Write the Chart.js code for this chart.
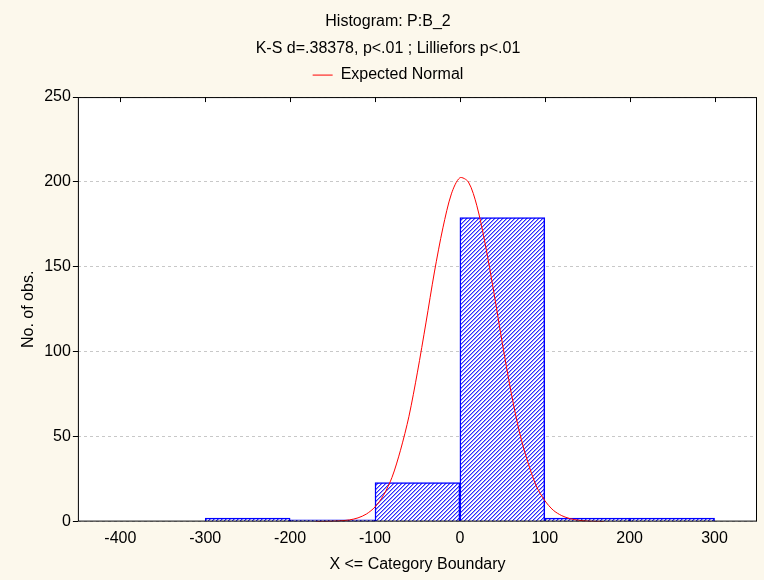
<!DOCTYPE html>
<html>
<head>
<meta charset="utf-8">
<script src="https://cdn.jsdelivr.net/npm/chart.js@4/dist/chart.umd.min.js"></script>
<style>
  html, body { margin: 0; padding: 0; background: #fcf8ec; }
  #wrap { width: 764px; height: 580px; }
</style>
</head>
<body>
<div id="wrap"><canvas id="grafico"></canvas></div>
<script>
const xTicks = [-400, -300, -200, -100, 0, 100, 200, 300];
const binCenters = [-250, -150, -50, 50, 150, 250];
const counts = [2, 1, 23, 179, 2, 2];

// curva normal esperada
const normalX = [-170, -160, -150, -140, -130, -120, -110, -100, -90, -80, -70, -60, -50, -40, -30, -20, -10, 0,
                 10, 20, 30, 40, 50, 60, 70, 80, 90, 100, 110, 120, 130, 140, 150, 160, 170];
const normalY = [0.03, 0.08, 0.2, 0.5, 1.0, 2.2, 4.5, 8.6, 15.5, 26, 42, 62, 88, 117, 147, 173, 193, 202.5,
                 200, 186, 163, 135, 105, 77, 53, 35, 21, 12.4, 6.7, 3.5, 1.7, 0.8, 0.3, 0.12, 0.04];

function hatch() {
    const c = document.createElement('canvas');
    c.width = 4; c.height = 4;
    const g = c.getContext('2d');
    g.fillStyle = '#ffffff';
    g.fillRect(0, 0, 4, 4);
    for (let y = 0; y < 4; y++) {
        for (let x = 0; x < 4; x++) {
            const k = (x + y) % 4;
            if (k === 0) { g.fillStyle = '#2a2aff'; g.fillRect(x, y, 1, 1); }
            if (k === 1) { g.fillStyle = '#9a9aff'; g.fillRect(x, y, 1, 1); }
        }
    }
    return g.createPattern(c, 'repeat');
}

const fondo = {
    id: 'fondo',
    beforeInit(chart) {
        const fit = chart.legend.fit;
        chart.legend.fit = function () {
            fit.call(this);
            this.height += 4;
        };
    },
    beforeDraw(chart) {
        const { ctx, chartArea: a } = chart;
        ctx.save();
        ctx.fillStyle = '#fcf8ec';
        ctx.fillRect(0, 0, chart.width, chart.height);
        ctx.fillStyle = '#ffffff';
        ctx.fillRect(a.left, a.top, a.right - a.left, a.bottom - a.top);
        ctx.restore();
    },
    afterDraw(chart) {
        const { ctx, chartArea: a } = chart;
        const x = chart.scales.x;
        ctx.save();
        ctx.strokeStyle = '#000';
        ctx.lineWidth = 1;
        ctx.strokeRect(a.left + 0.5, a.top + 0.5, a.right - a.left - 1, a.bottom - a.top - 1);
        ctx.beginPath();
        xTicks.forEach(v => {
            const px = Math.round(x.getPixelForValue(v)) + 0.5;
            ctx.moveTo(px, a.top); ctx.lineTo(px, a.top + 5);
        });
        ctx.stroke();
        ctx.restore();
    }
};

Chart.defaults.font.family = "'Liberation Sans', Arial, sans-serif";
Chart.defaults.font.size = 16;
Chart.defaults.color = '#000';

new Chart(document.getElementById('grafico'), {
    data: {
        datasets: [{
            type: 'line',
            label: 'Expected Normal',
            data: normalX.map((x, i) => ({ x: x, y: normalY[i] })),
            borderColor: '#ff0000',
            borderWidth: 1,
            pointRadius: 0,
            tension: 0.3,
            order: 0
        }, {
            type: 'bar',
            label: 'B_2',
            data: binCenters.map((x, i) => ({ x: x, y: counts[i] })),
            backgroundColor: hatch(),
            borderColor: '#0000ff',
            borderWidth: 1.5,
            barPercentage: 1,
            categoryPercentage: 1,
            order: 1
        }]
    },
    options: {
        responsive: true,
        maintainAspectRatio: false,
        animation: false,
        layout: { padding: { left: 19, right: 7, top: 0, bottom: 6 } },
        plugins: {
            title: {
                display: true,
                text: ['Histogram: P:B_2', 'K-S d=.38378, p<.01 ; Lilliefors p<.01'],
                font: { size: 16, weight: 'normal', lineHeight: 1.69 },
                padding: { top: 8, bottom: 0 }
            },
            legend: {
                labels: {
                    filter: item => item.text === 'Expected Normal',
                    usePointStyle: true,
                    pointStyle: 'line',
                    pointStyleWidth: 20,
                    padding: 5
                }
            },
            tooltip: { enabled: false }
        },
        scales: {
            x: {
                type: 'linear',
                min: -450,
                max: 350,
                offset: false,
                afterBuildTicks: axis => { axis.ticks = xTicks.map(v => ({ value: v })); },
                grid: { display: false, drawTicks: false, offset: false },
                border: { display: false },
                ticks: { padding: 7 },
                title: { display: true, text: 'X <= Category Boundary', padding: { top: 0, bottom: 0 } }
            },
            y: {
                min: 0,
                max: 250,
                ticks: { stepSize: 50, padding: 2 },
                grid: {
                    color: '#c8c8c8',
                    borderDash: [3, 3],
                    drawTicks: true,
                    tickLength: 5,
                    tickColor: '#000',
                    tickBorderDash: []
                },
                border: { display: false, dash: [3, 3] },
                title: { display: true, text: 'No. of obs.', padding: { top: 0, bottom: 4 } }
            }
        }
    },
    plugins: [fondo]
});
</script>
</body>
</html>
